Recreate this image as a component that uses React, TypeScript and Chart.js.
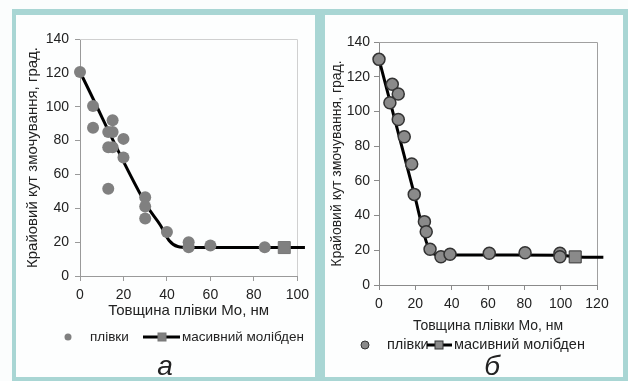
import React, { useEffect, useRef } from "react";
import { Chart, registerables } from "chart.js";
Chart.register(...registerables);

// ---------- Panel "а" ----------
const filmsA_x = [0, 6, 6, 15, 13, 15, 20, 13, 15, 20, 13, 30, 30, 30, 40, 50, 50, 60, 85];
const filmsA_y = [120.5, 100.4, 87.6, 92, 85, 85, 81, 76, 76, 70, 51.5, 46.5, 41, 34, 26, 20, 17, 18, 17];
const bulkA_x = [0, 31, 37, 41, 45, 50, 94, 103.5];
const bulkA_y = [120.5, 41, 30, 21, 17.4, 16.8, 16.8, 16.8];
const bulkA_markerX = 94;
const xMaxA = 100;

// ---------- Panel "б" ----------
const filmsB_x = [0, 7.3, 10.6, 6, 10.6, 13.9, 18, 19.4, 25, 26, 28.1, 34.1, 39.1, 60.7, 80.4, 99.6, 99.6];
const filmsB_y = [130, 115.6, 110, 105, 95.4, 85.4, 69.7, 52.2, 36.5, 30.7, 20.6, 16.3, 17.7, 18.3, 18.6, 18.3, 16.3];
const bulkB_x = [0, 19.5, 26, 29, 33, 100, 108, 123.5];
const bulkB_y = [130, 52, 25, 18.5, 17.3, 17.2, 16.2, 16];
const bulkB_markerX = 108;
const xMaxB = 120;

const yMax = 140;
const tickStep = 20;

const xTitle = "Товщина плівки Mo, нм";
const yTitle = "Крайовий кут змочування, град.";
const legendFilms = "плівки";
const legendBulk = "масивний молібден";

const FONT = "'Liberation Sans', Arial, sans-serif";

type PanelCfg = {
  width: number;
  height: number;
  filmsX: number[];
  filmsY: number[];
  bulkX: number[];
  bulkY: number[];
  markerX: number;
  xMax: number;
  pad: { left: number; top: number; right: number; bottom: number };
  yWidth: number;
  xHeight: number;
  tickFont: number;
  titleFont: number;
  yTickPad: number;
  xTickPad: number;
  frameColor: string;
  axisColor: string;
  circleFill: string;
  circleStroke: string;
  circleBorder: number;
  lineWidth: number;
  legend: {
    y: number;
    circleX: number;
    circleR: number;
    text1X: number;
    lineX1: number;
    lineX2: number;
    squareX: number;
    squareSize: number;
    text2X: number;
    font: number;
  };
  letter: string;
  letterX: number;
  letterY: number;
  letterFont: number;
};

function makePlugin(cfg: PanelCfg) {
  return {
    id: "panelDecor",
    beforeDatasetsDraw(chart: any) {
      const { ctx, chartArea: a } = chart;
      ctx.save();
      ctx.strokeStyle = cfg.frameColor;
      ctx.lineWidth = 1;
      ctx.beginPath();
      ctx.moveTo(a.left, Math.round(a.top) + 0.5);
      ctx.lineTo(Math.round(a.right) + 0.5, Math.round(a.top) + 0.5);
      ctx.lineTo(Math.round(a.right) + 0.5, a.bottom);
      ctx.stroke();
      ctx.restore();
    },
    afterDraw(chart: any) {
      const { ctx } = chart;
      const L = cfg.legend;
      ctx.save();
      // films marker
      ctx.beginPath();
      ctx.arc(L.circleX, L.y, L.circleR, 0, Math.PI * 2);
      ctx.fillStyle = cfg.circleFill;
      ctx.fill();
      if (cfg.circleBorder > 0) {
        ctx.lineWidth = 1;
        ctx.strokeStyle = cfg.circleStroke;
        ctx.stroke();
      }
      ctx.fillStyle = "#222";
      ctx.font = `${L.font}px ${FONT}`;
      ctx.textBaseline = "middle";
      ctx.textAlign = "left";
      ctx.fillText(legendFilms, L.text1X, L.y);
      // bulk line + square
      ctx.strokeStyle = "#000";
      ctx.lineWidth = cfg.lineWidth;
      ctx.beginPath();
      ctx.moveTo(L.lineX1, L.y);
      ctx.lineTo(L.lineX2, L.y);
      ctx.stroke();
      const s = L.squareSize;
      ctx.fillStyle = cfg.circleFill;
      ctx.fillRect(L.squareX - s / 2, L.y - s / 2, s, s);
      ctx.lineWidth = 1;
      ctx.strokeStyle = cfg.circleStroke;
      ctx.strokeRect(L.squareX - s / 2, L.y - s / 2, s, s);
      ctx.fillStyle = "#222";
      ctx.fillText(legendBulk, L.text2X, L.y);
      // panel letter
      ctx.font = `italic ${cfg.letterFont}px ${FONT}`;
      ctx.textAlign = "center";
      ctx.fillStyle = "#222";
      ctx.fillText(cfg.letter, cfg.letterX, cfg.letterY);
      ctx.restore();
    },
  };
}

function Panel({ cfg }: { cfg: PanelCfg }) {
  const ref = useRef<HTMLCanvasElement | null>(null);
  useEffect(() => {
    if (!ref.current) return;
    const films = cfg.filmsX.map((x, i) => ({ x, y: cfg.filmsY[i] }));
    const bulk = cfg.bulkX.map((x, i) => ({ x, y: cfg.bulkY[i] }));
    const chart = new Chart(ref.current, {
      type: "scatter",
      data: {
        datasets: [
          {
            label: legendFilms,
            data: films,
            clip: false,
            pointRadius: 6,
            pointHoverRadius: 6,
            pointBackgroundColor: cfg.circleFill,
            pointBorderColor: cfg.circleStroke,
            pointBorderWidth: cfg.circleBorder,
            order: 0,
          } as any,
          {
            label: legendBulk,
            data: bulk,
            showLine: true,
            borderColor: "#000",
            borderWidth: cfg.lineWidth,
            cubicInterpolationMode: "monotone",
            clip: false,
            pointStyle: "rect",
            pointRadius: bulk.map((p) => (p.x === cfg.markerX ? 8.5 : 0)),
            pointHoverRadius: bulk.map((p) => (p.x === cfg.markerX ? 8.5 : 0)),
            pointBackgroundColor: cfg.circleFill,
            pointBorderColor: cfg.circleStroke,
            pointBorderWidth: 1,
            order: 1,
          } as any,
        ],
      },
      options: {
        animation: false,
        responsive: false,
        events: [],
        layout: { padding: cfg.pad },
        plugins: {
          legend: { display: false },
          tooltip: { enabled: false },
        },
        scales: {
          x: {
            type: "linear",
            min: 0,
            max: cfg.xMax,
            ticks: {
              stepSize: tickStep,
              color: "#222",
              font: { family: FONT, size: cfg.tickFont },
              padding: cfg.xTickPad,
              maxRotation: 0,
            },
            grid: { drawOnChartArea: false, drawTicks: true, tickLength: 5, color: cfg.axisColor },
            border: { color: cfg.axisColor, width: 1 },
            title: {
              display: true,
              text: xTitle,
              color: "#222",
              font: { family: FONT, size: cfg.titleFont, lineHeight: 1 },
              padding: 0,
            },
            afterFit: (s: any) => {
              s.height = cfg.xHeight;
            },
          },
          y: {
            type: "linear",
            min: 0,
            max: yMax,
            ticks: {
              stepSize: tickStep,
              color: "#222",
              font: { family: FONT, size: cfg.tickFont },
              padding: cfg.yTickPad,
            },
            grid: { drawOnChartArea: false, drawTicks: true, tickLength: 5, color: cfg.axisColor },
            border: { color: cfg.axisColor, width: 1 },
            title: {
              display: true,
              text: yTitle,
              color: "#222",
              font: { family: FONT, size: cfg.titleFont, lineHeight: 1 },
              padding: 0,
            },
            afterFit: (s: any) => {
              s.width = cfg.yWidth;
            },
          },
        },
      } as any,
      plugins: [makePlugin(cfg)],
    });
    return () => chart.destroy();
  }, [cfg]);
  return <canvas ref={ref} width={cfg.width} height={cfg.height} style={{ display: "block" }} />;
}

const cfgA: PanelCfg = {
  width: 299,
  height: 362,
  filmsX: filmsA_x,
  filmsY: filmsA_y,
  bulkX: bulkA_x,
  bulkY: bulkA_y,
  markerX: bulkA_markerX,
  xMax: xMaxA,
  pad: { left: 9.5, top: 24, right: 13.5, bottom: 58.5 },
  yWidth: 54.5,
  xHeight: 42.5,
  tickFont: 14,
  titleFont: 15,
  yTickPad: 6,
  xTickPad: 6,
  frameColor: "#d0d0d0",
  axisColor: "#9a9a9a",
  circleFill: "#808080",
  circleStroke: "#777777",
  circleBorder: 0,
  lineWidth: 3,
  legend: {
    y: 322,
    circleX: 52,
    circleR: 3.5,
    text1X: 74,
    lineX1: 127,
    lineX2: 164,
    squareX: 146,
    squareSize: 8,
    text2X: 166,
    font: 13.5,
  },
  letter: "а",
  letterX: 149,
  letterY: 352,
  letterFont: 28,
};

const cfgB: PanelCfg = {
  width: 298,
  height: 362,
  filmsX: filmsB_x,
  filmsY: filmsB_y,
  bulkX: bulkB_x,
  bulkY: bulkB_y,
  markerX: bulkB_markerX,
  xMax: xMaxB,
  pad: { left: 5, top: 27, right: 26, bottom: 44.3 },
  yWidth: 49,
  xHeight: 47.7,
  tickFont: 14,
  titleFont: 14,
  yTickPad: 4,
  xTickPad: 6,
  frameColor: "#a0a0a0",
  axisColor: "#8a8a8a",
  circleFill: "#8a8a8a",
  circleStroke: "#333333",
  circleBorder: 1.5,
  lineWidth: 3,
  legend: {
    y: 330,
    circleX: 40,
    circleR: 4,
    text1X: 62,
    lineX1: 102,
    lineX2: 127,
    squareX: 114,
    squareSize: 8,
    text2X: 129,
    font: 14.5,
  },
  letter: "б",
  letterX: 167,
  letterY: 352,
  letterFont: 28,
};

export default function App() {
  const teal = "#a9d6d4";
  const paper = "#fdfefe";
  return (
    <div
      style={{
        position: "fixed",
        left: 0,
        top: 0,
        width: 628,
        height: 381,
        background: "#fbfdfd",
        overflow: "hidden",
      }}
    >
      <div style={{ position: "absolute", left: 12, top: 9, width: 616, height: 372, background: teal }} />
      <div style={{ position: "absolute", left: 16, top: 15, width: 299, height: 362, background: paper }}>
        <Panel cfg={cfgA} />
      </div>
      <div style={{ position: "absolute", left: 325, top: 15, width: 298, height: 362, background: paper }}>
        <Panel cfg={cfgB} />
      </div>
    </div>
  );
}
